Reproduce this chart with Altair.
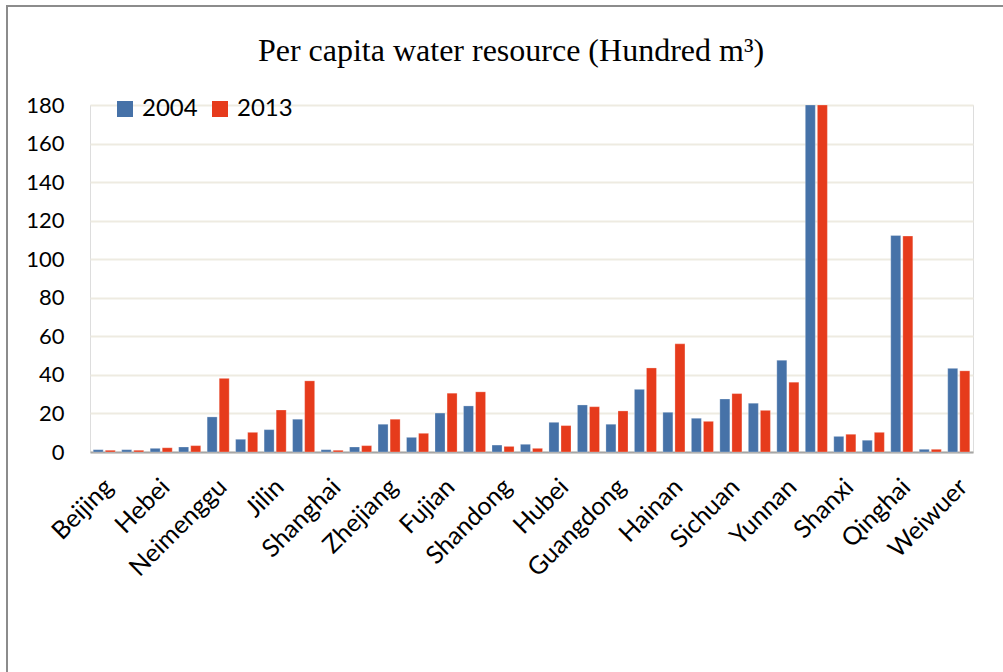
import json
import altair as alt
import pandas as pd

# Provinces in order along the x axis
provinces = [
    "Beijing", "Tianjin", "Hebei", "Shanxi", "Neimenggu", "Liaoning", "Jilin",
    "Heilongjiang", "Shanghai", "Jiangsu", "Zhejiang", "Anhui", "Fujian",
    "Jiangxi", "Shandong", "Henan", "Hubei", "Hunan", "Guangdong", "Guangxi",
    "Hainan", "Chongqing", "Sichuan", "Guizhou", "Yunnan", "Xizang", "Shaanxi",
    "Gansu", "Qinghai", "Ningxia", "Weiwuer",
]

# Axis labels: every other province is labelled
tick_labels = [
    "Beijing", "", "Hebei", "", "Neimenggu", "", "Jilin", "", "Shanghai", "",
    "Zhejiang", "", "Fujian", "", "Shandong", "", "Hubei", "", "Guangdong", "",
    "Hainan", "", "Sichuan", "", "Yunnan", "", "Shanxi", "", "Qinghai", "",
    "Weiwuer",
]

years = ["2004", "2013"]

# Per capita water resource, hundred m3 (axis tops out at 180)
values_2004 = [
    1.2, 1.2, 1.9, 2.6, 18.2, 6.6, 11.6, 17.0, 1.2, 2.6, 14.4, 7.6, 20.2,
    23.9, 3.6, 4.0, 15.4, 24.4, 14.4, 32.5, 20.6, 17.5, 27.5, 25.3, 47.6,
    180.0, 8.1, 6.1, 112.3, 1.4, 43.4,
]
values_2013 = [
    0.9, 0.9, 2.2, 3.3, 38.2, 10.2, 21.8, 36.9, 0.9, 3.3, 17.0, 9.7, 30.5,
    31.2, 2.9, 1.9, 13.7, 23.5, 21.3, 43.6, 56.1, 15.9, 30.3, 21.6, 36.2,
    180.0, 9.2, 10.2, 112.0, 1.4, 42.1,
]

title_text = "Per capita water resource (Hundred m³)"

colors = ["#4672A8", "#E63B1C"]

rows = []
for i, p in enumerate(provinces):
    rows.append({"idx": i, "province": p, "year": years[0], "value": values_2004[i]})
    rows.append({"idx": i, "province": p, "year": years[1], "value": values_2013[i]})
df = pd.DataFrame(rows)

label_expr = json.dumps(tick_labels) + "[datum.value]"

bars = alt.Chart(df).mark_bar(
    stroke="#ffffff", strokeWidth=0.6, strokeOpacity=0.45
).encode(
    x=alt.X(
        "idx:O",
        title=None,
        scale=alt.Scale(paddingInner=0.225, paddingOuter=0.1125),
        axis=alt.Axis(
            labelExpr=label_expr,
            labelAngle=-45,
            labelFont="Lato",
            labelFontSize=25,
            labelColor="#000000",
            labelPadding=22,
            labelOffset=-4,
            ticks=False,
            domainColor="#A6A6A6",
            domainWidth=2,
            grid=False,
        ),
    ),
    xOffset=alt.XOffset("year:N", scale=alt.Scale(paddingInner=0.17)),
    y=alt.Y(
        "value:Q",
        title=None,
        scale=alt.Scale(domain=[0, 180], nice=False),
        axis=alt.Axis(
            values=list(range(0, 181, 20)),
            labelFont="Lato",
            labelFontSize=22,
            labelColor="#000000",
            labelPadding=26,
            ticks=False,
            domain=False,
            gridColor="#EEEBE1",
            gridWidth=2,
        ),
    ),
    color=alt.Color(
        "year:N",
        scale=alt.Scale(domain=years, range=colors),
        legend=alt.Legend(
            title=None,
            orient="none",
            direction="horizontal",
            legendX=23,
            legendY=-8,
            symbolType="square",
            symbolSize=256,
            symbolStrokeWidth=0,
            labelFont="Lato",
            labelFontSize=24,
            labelColor="#000000",
            labelOffset=5,
            columnPadding=10,
        ),
    ),
)

# Chart title drawn as a text mark above the plot
title = alt.Chart(alt.Data(values=[{"t": title_text}])).mark_text(
    font="Liberation Serif", fontSize=32, color="#000000",
    align="center", baseline="alphabetic",
).encode(text="t:N", x=alt.value(421), y=alt.value(-44))

# Outer frame around the whole figure
frame = alt.Chart(alt.Data(values=[{}])).mark_rect(
    fill="transparent", stroke="#8C8C8C", strokeWidth=2
).encode(
    x=alt.value(-83), x2=alt.value(960), y=alt.value(-99), y2=alt.value(620)
)

chart = alt.layer(frame, title, bars).properties(
    width=883,
    height=347,
    autosize=alt.AutoSizeParams(type="none"),
    padding={"left": 90, "top": 105, "right": 30, "bottom": 220},
).configure_view(stroke=None).configure(background="#ffffff")

chart.save("out.html", embed_options={"renderer": "svg", "actions": False})
